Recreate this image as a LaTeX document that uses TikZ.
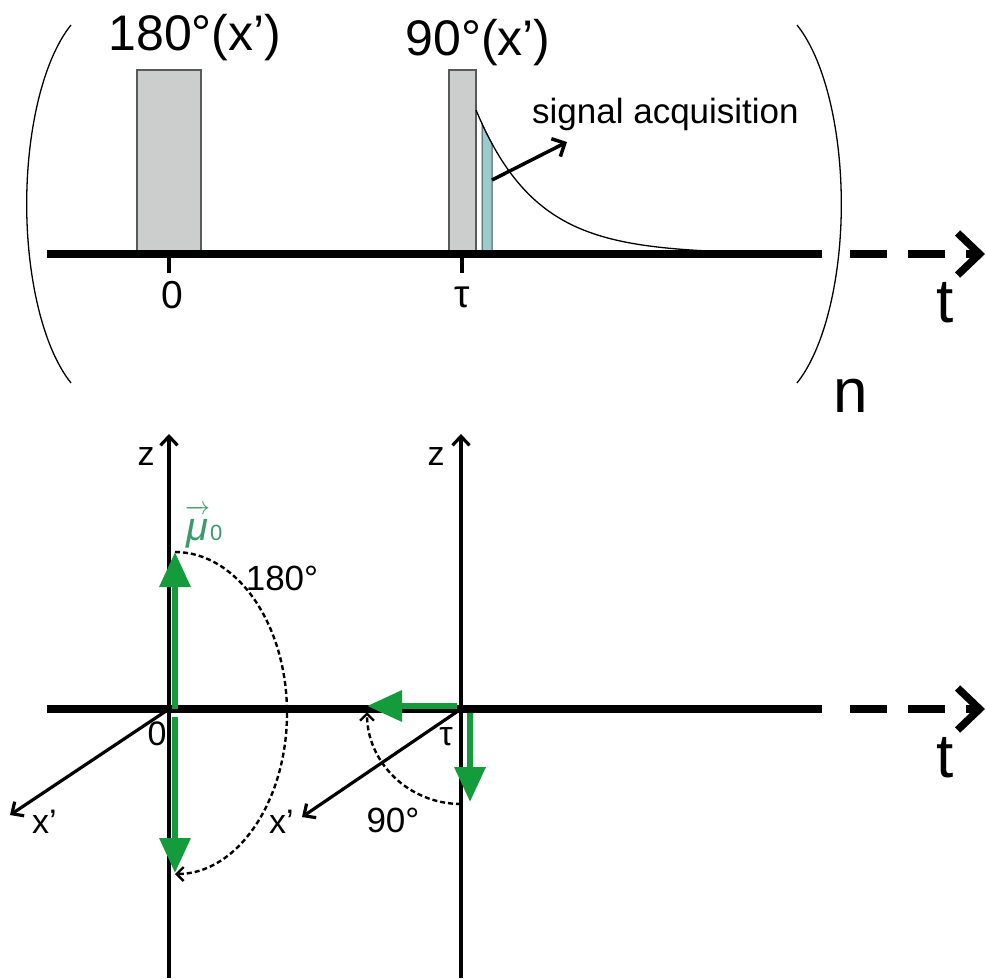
\documentclass[tikz,border=0pt]{standalone}
\usepackage{fontspec}
\setmainfont{Liberation Sans}
\usetikzlibrary{arrows.meta}
\definecolor{pulsegray}{RGB}{204,206,205}
\definecolor{acqteal}{RGB}{153,204,204}
\definecolor{vecgreen}{RGB}{20,155,60}
\definecolor{mugreen}{RGB}{58,154,106}
\newcommand{\fs}[1]{\fontsize{#1}{#1}\selectfont}

\begin{document}
\begin{tikzpicture}[x=1pt,y=-1pt,every node/.style={inner sep=0pt},
    pulse/.style={fill=pulsegray,draw=black!65,line width=1.2pt},
    thinline/.style={line width=1.3pt},
    taxis/.style={line width=7.5pt},
    ttail/.style={line width=7.5pt,dash pattern=on 37pt off 21pt,-{Straight Barb[length=22pt,width=42pt]}},
    axis/.style={line width=3.2pt,-{Straight Barb[length=9pt,width=17pt]}},
    vec/.style={vecgreen,line width=6.5pt,-{Triangle[length=35pt,width=30pt]}},
    rot/.style={line width=2.4pt,dash pattern=on 5pt off 3pt,-{Straight Barb[length=7pt,width=14pt]}},
    small/.style={font=\fs{34}}]
\useasboundingbox (0,0) rectangle (986,978);
% pulse sequence
\draw[pulse] (137,70) rectangle (201,254);
\draw[pulse] (449,70) rectangle (476,254);
\filldraw[fill=acqteal,draw=black!70,line width=1pt] (482,254) -- plot[domain=6:16,samples=6] ({476+\x},{254-144*exp(-\x/60)}) -- (492,254) -- cycle;
\draw[thinline] plot[domain=0:240,samples=70] ({476+\x},{254-144*exp(-\x/60)});
\coordinate (ta0) at (47,254); \coordinate (ta1) at (822,254);
\coordinate (ta2) at (850,254); \coordinate (ta3) at (985,254);
\draw[taxis] (ta0) -- (ta1);
\draw[ttail] (ta2) -- (ta3);
\draw[line width=3.5pt] (169,258) -- (169,273);
\draw[line width=3.5pt] (462,258) -- (462,273);
\node[font=\fs{50},anchor=base] (p180) at (195,50) {180°(x’)};
\node[font=\fs{50},anchor=base] (p90) at (478,55) {90°(x’)};
\node[font=\fs{35},anchor=base west] (acq) at (532,123) {signal acquisition};
\coordinate (acqa) at (492,180); \coordinate (acqb) at (567,142);
\draw[line width=3.5pt,-{Straight Barb[length=10pt,width=20pt]}] (acqa) -- (acqb);
\node[font=\fs{39},anchor=base] (zero) at (172,308) {0};
\node[font=\fs{39},anchor=base] (tau) at (462,307) {τ};
\node[font=\fs{62},anchor=base] (tt) at (945,322) {t};
\node[font=\fs{62},anchor=base] (nn) at (851,412) {n};
\draw[thinline] (71,25) arc[start angle=116.5,end angle=243.5,x radius=80pt,y radius=200pt];
\draw[thinline] (797,25) arc[start angle=63.5,end angle=-63.5,x radius=80pt,y radius=200pt];
% rotating frame
\coordinate (o1) at (169,709); \coordinate (o2) at (461,709);
\coordinate (z1b) at (169,978); \coordinate (z1t) at (169,434);
\coordinate (z2b) at (461,978); \coordinate (z2t) at (461,434);
\coordinate (x1) at (10,815); \coordinate (x2) at (302,817);
\draw[axis] (z1b) -- (z1t);
\draw[axis] (z2b) -- (z2t);
\draw[axis] (o1) -- (x1);
\draw[axis] (o2) -- (x2);
\coordinate (tb0) at (47,709); \coordinate (tb1) at (822,709);
\coordinate (tb2) at (850,709); \coordinate (tb3) at (985,709);
\draw[taxis] (tb0) -- (tb1);
\draw[ttail] (tb2) -- (tb3);
\coordinate (muup) at (175,552); \coordinate (mudown) at (175,873);
\coordinate (mux) at (367,706); \coordinate (muz) at (470,802);
\draw[vec] (175,709) -- (muup);
\draw[vec] (175,717) -- (mudown);
\draw[vec] (457,706) -- (mux);
\draw[vec] (470,713) -- (muz);
\draw[rot] (muup) arc[start angle=90,end angle=-90,x radius=112pt,y radius=161pt];
\draw[rot] (461,804) arc[start angle=-90,end angle=-180,x radius=94pt,y radius=92pt];
\node[mugreen,anchor=base west] (mu) at (185,540) {\fs{40}$\overrightarrow{\hbox{\itshape μ}\rule{0pt}{27pt}}$\fs{22}0};
\node[font=\fs{35},anchor=base] (a180) at (282,590) {180°};
\node[font=\fs{35},anchor=base] (a90) at (393,832) {90°};
\node[small,anchor=base] (zl1) at (146,465) {z};
\node[small,anchor=base] (zl2) at (436,465) {z};
\node[small,anchor=base west] (xl1) at (32,833) {x’};
\node[small,anchor=base west] (xl2) at (269,833) {x’};
\node[small,anchor=base] (zero2) at (157,745) {0};
\node[small,anchor=base] (tau2) at (446,745) {τ};
\node[font=\fs{62},anchor=base] (tt2) at (945,777) {t};
\end{tikzpicture}
\end{document}
